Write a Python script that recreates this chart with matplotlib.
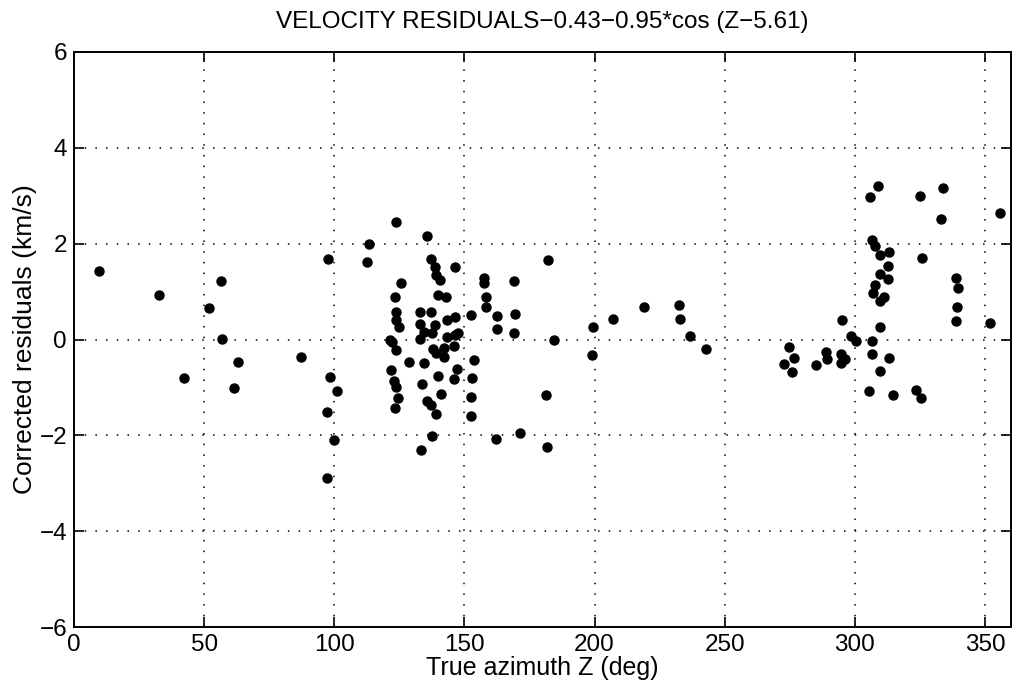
import matplotlib
matplotlib.use("Agg")
import matplotlib.pyplot as plt

# azimuth (deg) and corrected residuals (km/s)
azimuth = [
    9.5, 32.6, 42.2, 51.8, 56.4, 57.0, 63.1, 61.3, 87.4, 97.4,
    98.5, 101.0, 97.2, 100.0, 97.2,
    112.4, 113.3, 123.6, 135.5, 137.0, 138.6, 139.0, 140.5, 146.4, 125.8,
    157.7, 157.7, 139.8, 142.8, 123.5, 158.3, 158.2, 152.6, 162.6, 162.6,
    123.6, 123.6, 125.0, 133.0, 137.0, 132.9, 138.7, 134.6, 137.4, 132.8,
    143.2, 146.2, 143.5, 146.4, 147.4, 121.4, 122.1, 123.7, 137.8, 139.0,
    142.0, 146.0, 142.0, 128.8, 134.4, 153.8, 121.8, 147.2, 139.7, 146.0,
    153.1, 123.1, 123.8, 133.6, 141.0, 124.6, 135.6, 137.1, 123.3, 139.0,
    152.7, 152.7, 137.4, 133.2, 162.0,
    169.2, 169.5, 169.1, 182.0, 184.4, 181.4, 171.5, 181.8, 199.4, 198.9,
    206.9, 218.9, 232.5, 232.7, 236.7, 243.0,
    308.9, 305.9, 325.1, 333.8, 333.1, 355.7, 306.7, 307.8, 309.5, 313.2,
    325.8, 312.7, 309.7, 312.8, 307.6, 307.1, 311.3, 309.7, 338.8, 339.7,
    339.3, 338.7, 352.0, 309.8, 295.0, 298.6, 300.5, 306.7, 306.6, 313.1,
    309.5, 274.7, 276.7, 272.8, 276.0, 284.9, 288.9, 289.4, 294.8, 296.1,
    294.7, 305.5, 314.5, 323.4, 325.6,
]
residual = [
    1.42, 0.92, -0.81, 0.66, 1.23, 0.02, -0.47, -1.01, -0.37, 1.67,
    -0.78, -1.08, -1.51, -2.10, -2.90,
    1.61, 1.99, 2.46, 2.17, 1.68, 1.51, 1.34, 1.25, 1.51, 1.18,
    1.28, 1.18, 0.93, 0.88, 0.88, 0.89, 0.68, 0.52, 0.50, 0.21,
    0.58, 0.41, 0.27, 0.57, 0.58, 0.32, 0.31, 0.16, 0.13, 0.02,
    0.40, 0.47, 0.06, 0.09, 0.13, 0.00, -0.05, -0.22, -0.20, -0.28,
    -0.17, -0.14, -0.36, -0.47, -0.50, -0.42, -0.64, -0.61, -0.77, -0.82,
    -0.80, -0.87, -1.00, -0.93, -1.13, -1.23, -1.28, -1.36, -1.43, -1.55,
    -1.21, -1.60, -2.02, -2.30, -2.08,
    1.23, 0.53, 0.13, 1.65, -0.01, -1.16, -1.96, -2.25, 0.27, -0.33,
    0.43, 0.68, 0.72, 0.43, 0.08, -0.20,
    3.21, 2.97, 2.99, 3.16, 2.52, 2.64, 2.07, 1.96, 1.76, 1.83,
    1.70, 1.53, 1.36, 1.26, 1.14, 0.97, 0.88, 0.81, 1.28, 1.07,
    0.68, 0.39, 0.35, 0.26, 0.40, 0.08, -0.04, -0.04, -0.30, -0.39,
    -0.65, -0.15, -0.38, -0.51, -0.68, -0.53, -0.27, -0.41, -0.30, -0.40,
    -0.50, -1.07, -1.16, -1.05, -1.23,
]

xticks = [0, 50, 100, 150, 200, 250, 300, 350]
yticks = [-6, -4, -2, 0, 2, 4, 6]

plt.rcParams['font.family'] = ['Liberation Sans', 'DejaVu Sans']

fig = plt.figure(figsize=(10.13, 6.9), dpi=100)
ax = fig.add_axes([74 / 1013, 63 / 690, 937 / 1013, 575 / 690])

ax.plot(azimuth, residual, 'o', color='black', markersize=6.5, zorder=3)

ax.set_xlim(0, 360)
ax.set_ylim(-6, 6)
ax.set_xticks(xticks)
ax.set_yticks(yticks)
ax.grid(True, color='black', linestyle=(0, (1, 6)), linewidth=1.1)
ax.tick_params(direction='in', length=7, width=1.2, top=True, right=True,
               labelsize=17.5, pad=5)
for s in ax.spines.values():
    s.set_linewidth(1.4)

ax.set_xlabel('True azimuth Z (deg)', fontsize=18, labelpad=0)
ax.set_ylabel('Corrected residuals (km/s)', fontsize=19, labelpad=2)
ax.set_title('VELOCITY RESIDUALS\u22120.43\u22120.95*cos (Z\u22125.61)',
             fontsize=17.5, pad=17)

fig.savefig('out.png', dpi=100)
